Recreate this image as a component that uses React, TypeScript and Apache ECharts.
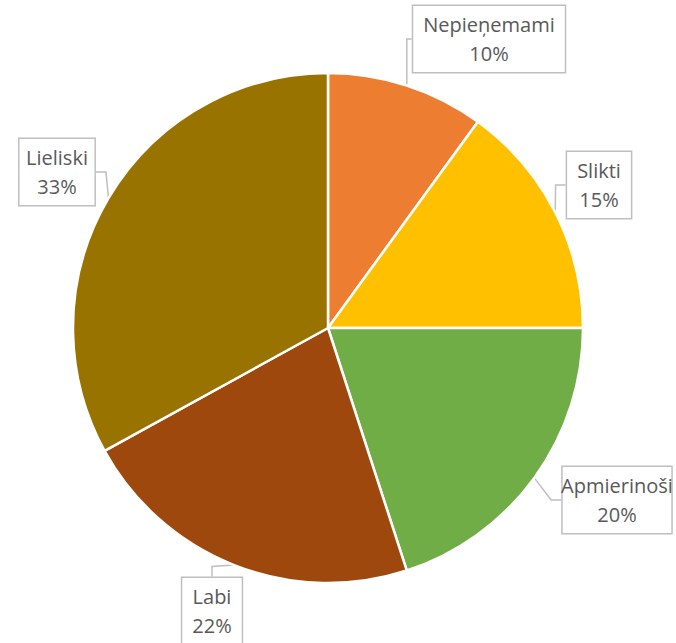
import React, { useEffect, useRef } from "react";
import * as echarts from "echarts";

const categories = ["Nepieņemami", "Slikti", "Apmierinoši", "Labi", "Lieliski"];
const values = [10, 15, 20, 22, 33];
const colors = ["#ED7D31", "#FFC000", "#70AD47", "#9E480E", "#997300"];
// label box centre positions (layout only)
const labelPos: { x: number; y: number }[] = [
  { x: 489, y: 39 },
  { x: 599, y: 185 },
  { x: 617, y: 500 },
  { x: 212, y: 611 },
  { x: 57, y: 172 },
];

export default function App() {
  const ref = useRef<HTMLDivElement>(null);
  useEffect(() => {
    document.body.style.margin = "0";
    const chart = echarts.init(ref.current!, null, { renderer: "svg" });
    chart.setOption({
      animation: false,
      backgroundColor: "#ffffff",
      series: [
        {
          type: "pie",
          center: [328, 328],
          radius: [0, 255],
          startAngle: 90,
          clockwise: true,
          itemStyle: { borderColor: "#ffffff", borderWidth: 2.5 },
          label: {
            show: true,
            formatter: "{b}\n{d}%",
            fontFamily: "Open Sans",
            fontSize: 20,
            lineHeight: 29,
            color: "#595959",
            align: "center",
            overflow: "none",
            backgroundColor: "#ffffff",
            borderColor: "#bfbfbf",
            borderWidth: 1.5,
            padding: [4, 10],
          },
          labelLine: {
            show: true,
            length: 10,
            length2: 10,
            lineStyle: { color: "#bfbfbf", width: 1.5 },
          },
          labelLayout: (params: any) => {
            const p = labelPos[params.dataIndex];
            return { x: p.x, y: p.y, align: "center", verticalAlign: "middle" };
          },
          data: categories.map((c, i) => ({
            name: c,
            value: values[i],
            itemStyle: { color: colors[i] },
          })),
        },
      ],
    });
    return () => chart.dispose();
  }, []);
  return <div ref={ref} style={{ width: 676, height: 643 }} />;
}
